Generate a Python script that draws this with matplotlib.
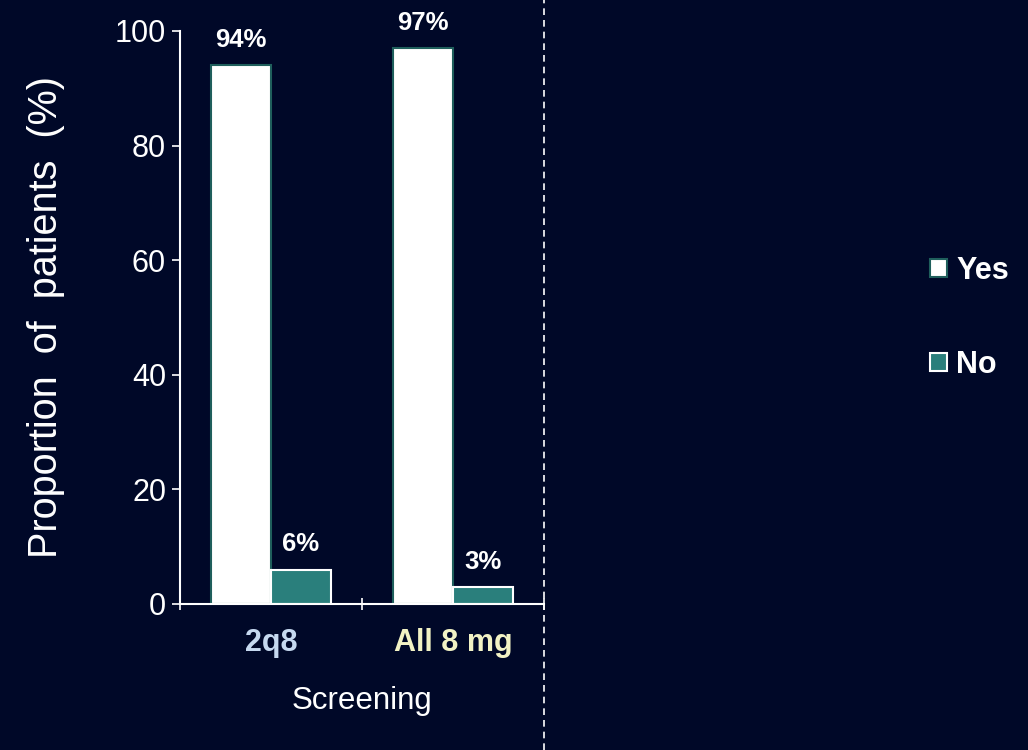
import matplotlib.pyplot as plt
import numpy as np

plt.rcParams["font.family"] = ["Liberation Sans", "DejaVu Sans"]

groups = ["2q8", "All 8 mg"]
group_colors = ["#c6d9f0", "#f2f2c4"]
yes_vals = [94, 97]
no_vals = [6, 3]
yes_labels = ["94%", "97%"]
no_labels = ["6%", "3%"]
yticks = [0, 20, 40, 60, 80, 100]

bg = "#000828"
teal = "#2a7f7c"

fig = plt.figure(figsize=(10.28, 7.5), dpi=100, facecolor=bg)
ax = fig.add_axes([0.1751, 0.1947, 0.3540, 0.7640])
ax.set_facecolor(bg)

x = np.arange(len(groups))
w = 0.33
yes_bars = ax.bar(x - w / 2, yes_vals, w, color="white", edgecolor="#1f5f5c", linewidth=1.5, label="Yes")
no_bars = ax.bar(x + w / 2, no_vals, w, color=teal, edgecolor="white", linewidth=1.5, label="No")

for b, t in zip(yes_bars, yes_labels):
    ax.text(b.get_x() + b.get_width() / 2, b.get_height() + 2.3, t, ha="center", va="bottom",
            color="white", fontsize=18.5, fontweight="bold")
for b, t in zip(no_bars, no_labels):
    ax.text(b.get_x() + b.get_width() / 2, b.get_height() + 2.3, t, ha="center", va="bottom",
            color="white", fontsize=18.5, fontweight="bold")

ax.set_xlim(-0.5, 1.5)
ax.set_ylim(0, 100)
ax.set_yticks(yticks)
ax.tick_params(axis="y", colors="white", labelsize=22, length=6, width=1.2, pad=4)

# group labels between boundary ticks
ax.set_xticks([-0.5, 0.5, 1.5])
ax.set_xticklabels([])
ax.tick_params(axis="x", colors="white", length=9, width=1.2, direction="inout")
for xi, g, c in zip(x, groups, group_colors):
    ax.text(xi, -4.2, g, ha="center", va="top", color=c, fontsize=22, fontweight="bold")

for s in ["top", "right"]:
    ax.spines[s].set_visible(False)
for s in ["left", "bottom"]:
    ax.spines[s].set_color("white")
    ax.spines[s].set_linewidth(1.5)
ax.spines["bottom"].set_bounds(-0.5, 1.5)

ax.set_ylabel("Proportion  of  patients  (%)", color="white", fontsize=28.5, labelpad=36)
fig.text(0.352, 0.065, "Screening", ha="center", va="center", color="white", fontsize=22.5)

# dashed divider
fig.add_artist(plt.Line2D([0.529, 0.529], [0, 1], transform=fig.transFigure,
                          color="white", linestyle=(0, (4, 3)), linewidth=1.2))

leg = fig.legend(handles=[yes_bars, no_bars], labels=["Yes", "No"], loc="center left",
                 bbox_to_anchor=(0.905, 0.576), frameon=False, borderpad=0, borderaxespad=0,
                 handlelength=0.55, handleheight=0.55, handletextpad=0.3, labelspacing=2.1,
                 prop={"size": 22, "weight": "bold"})
for t in leg.get_texts():
    t.set_color("white")

fig.savefig("out.png", dpi=100, facecolor=bg)
